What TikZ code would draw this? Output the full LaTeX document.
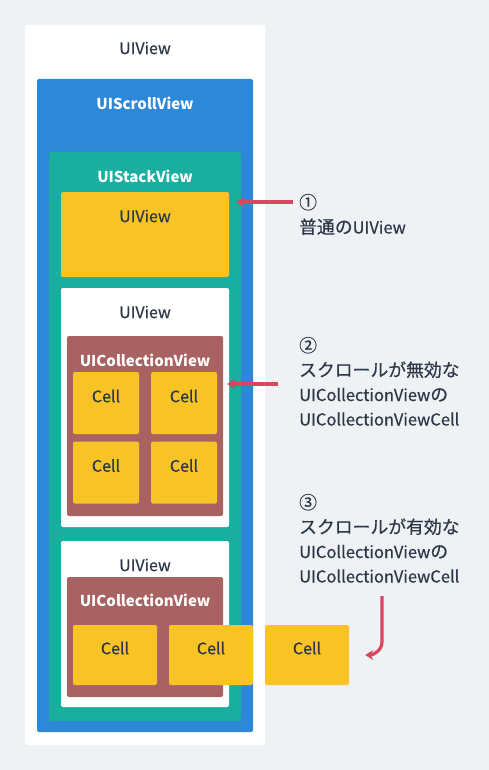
\documentclass[tikz,border=0pt]{standalone}
\usepackage{fontspec}
\setmainfont{Noto Sans CJK JP}[FakeBold=0.4]
\newfontfamily\jpfont{Noto Sans CJK JP}[Scale=1.08, FakeBold=0.4]
\newfontfamily\headfont{Noto Sans CJK JP}
\usetikzlibrary{arrows.meta}

\definecolor{bgcol}{HTML}{EFF2F5}
\definecolor{ink}{HTML}{2C3747}
\definecolor{scrollblue}{HTML}{2E88D8}
\definecolor{stackteal}{HTML}{1AAE9F}
\definecolor{cellyellow}{HTML}{F8C325}
\definecolor{collbrown}{HTML}{A86262}
\definecolor{arrowred}{HTML}{D8465F}

\begin{document}
\begin{tikzpicture}[x=1pt,y=-1pt,
   view/.style 2 args={rounded corners=2pt, inner sep=0pt, minimum width=#1, minimum height=#2},
   darklabel/.style={text=ink, font=\fontsize{16}{18}\selectfont},
   lightlabel/.style={text=white, font=\headfont\bfseries\fontsize{15}{18}\selectfont},
   celllabel/.style={text=ink, font=\fontsize{16}{18}\selectfont},
   note/.style={text=ink, anchor=base west, align=left, inner sep=0pt,
                font=\fontsize{16.5}{24.5}\selectfont},
   notearrow/.style={draw=arrowred, line width=3.2pt, -{Stealth[length=8pt,width=10pt]}}]

   % page
   \fill[bgcol] (0,0) rectangle (489,770);
   \useasboundingbox (0,0) rectangle (489,770);

   % nested views
   \node[view={240pt}{720pt}, fill=white] (root) at (145,385) {};
   \node[darklabel] at (145,48) {UIView};

   \node[view={216pt}{653pt}, fill=scrollblue] (scroll) at (145,405.5) {};
   \node[lightlabel] at (145,103) {UIScrollView};

   \node[view={192pt}{569pt}, fill=stackteal] (stack) at (145,436.5) {};
   \node[lightlabel] at (145,176) {UIStackView};

   % 1: plain view
   \node[view={168pt}{85pt}, fill=cellyellow] (plain) at (145,234.5) {};
   \node[darklabel] at (145,216) {UIView};

   % 2: collection view, no scrolling
   \node[view={168pt}{239pt}, fill=white] (fixedview) at (145,407.5) {};
   \node[darklabel] at (145,312) {UIView};
   \node[view={156pt}{180pt}, fill=collbrown] (fixedcoll) at (145,426) {};
   \node[lightlabel] at (145,360) {UICollectionView};
   \foreach \cx/\cy [count=\i] in {106/403, 184/403, 106/472.5, 184/472.5} {
      \node[view={66pt}{62pt}, fill=cellyellow] (fixedcell\i) at (\cx,\cy) {};
      \node[celllabel] at ([yshift=7pt]fixedcell\i.center) {Cell};
   }

   % 3: collection view, scrolling
   \node[view={168pt}{166pt}, fill=white] (scrollview) at (145,624) {};
   \node[darklabel] at (145,565) {UIView};
   \node[view={156pt}{120pt}, fill=collbrown] (scrollcoll) at (145,637) {};
   \node[lightlabel] at (145,600) {UICollectionView};
   \foreach \cx [count=\i] in {115, 211, 307} {
      \node[view={84pt}{60pt}, fill=cellyellow] (scrollcell\i) at (\cx,655) {};
      \node[celllabel] at ([yshift=7pt]scrollcell\i.center) {Cell};
   }

   % notes (base = last line)
   \node[note] (note1) at (299,233.5) {{\jpfont ①}\\{\jpfont 普通の}UIView};
   \node[note] (note2) at (299,425.5) {{\jpfont ②}\\{\jpfont スクロールが無効な}\\UICollectionView{\jpfont の}\\UICollectionViewCell};
   \node[note] (note3) at (299,582.5) {{\jpfont ③}\\{\jpfont スクロールが有効な}\\UICollectionView{\jpfont の}\\UICollectionViewCell};

   % arrows
   \coordinate (from1) at (293,202);
   \coordinate (from2) at (278,384);
   \coordinate (from3) at (382,596);
   \draw[notearrow, shorten >=7pt] (from1) -- (from1 -| plain.east);
   \draw[notearrow, shorten >=4pt] (from2) -- (from2 -| fixedcoll.east);
   \draw[notearrow] (from3) -- ++(0,46) to[out=-90,in=0] ([xshift=16pt]scrollcell3.east);

\end{tikzpicture}
\end{document}
